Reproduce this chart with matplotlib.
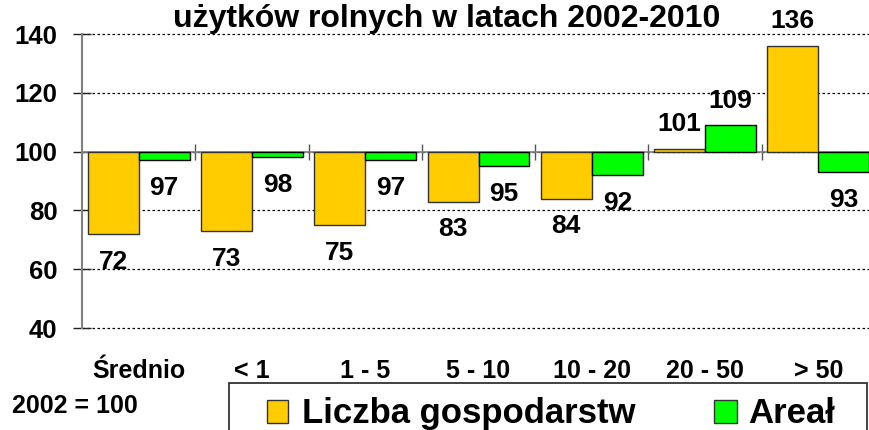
import matplotlib.pyplot as plt
import matplotlib.transforms as mtransforms
from matplotlib.patches import Rectangle

plt.rcParams['font.family'] = ['Liberation Sans', 'DejaVu Sans']
plt.rcParams['font.weight'] = 'bold'

# dane: 2002 = 100
kategorie = ['Średnio', '< 1', '1 - 5', '5 - 10', '10 - 20', '20 - 50', '> 50']
liczba_gospodarstw = [72, 73, 75, 83, 84, 101, 136]
areal = [97, 98, 97, 95, 92, 109, 93]
podstawa = 100

kolor_gosp = '#FFCC00'
kolor_areal = '#00FF00'

W, H = 869, 430
fig = plt.figure(figsize=(W / 100, H / 100), dpi=100)
ax = fig.add_axes([82 / W, 1 - 328 / H, 793 / W, 294 / H])

x = list(range(len(kategorie)))
srodki = [i + 0.5 for i in x]
szer = 0.45

ax.bar(srodki, [v - podstawa for v in liczba_gospodarstw], width=-szer, bottom=podstawa,
       align='edge', color=kolor_gosp, edgecolor='#333333', linewidth=1, zorder=3)
ax.bar(srodki, [v - podstawa for v in areal], width=szer, bottom=podstawa,
       align='edge', color=kolor_areal, edgecolor='black', linewidth=1, zorder=3)

# etykiety wartosci
for s, v in zip(srodki, liczba_gospodarstw):
    off = 17.5 if v > podstawa else -20
    ax.annotate(str(v), (s - szer / 2, v), xytext=(0, off), textcoords='offset points',
                ha='center', va='center', fontsize=19, fontweight='bold', annotation_clip=False)
for s, v in zip(srodki, areal):
    off = 17.5 if v > podstawa else -20
    ax.annotate(str(v), (s + szer / 2, v), xytext=(0, off), textcoords='offset points',
                ha='center', va='center', fontsize=19, fontweight='bold', annotation_clip=False)

ax.set_xlim(0, len(kategorie))
ax.set_ylim(40, 140)
ax.set_yticks([40, 60, 80, 100, 120, 140])
ax.tick_params(axis='y', direction='inout', length=13.5, width=1, color='#222222',
               labelsize=18.5, pad=11)
for lab in ax.get_yticklabels():
    lab.set_fontweight('bold')

ax.spines['bottom'].set_position(('data', podstawa))
ax.spines['bottom'].set_color('#808080')
ax.spines['bottom'].set_linewidth(1.2)
ax.spines['left'].set_color('#808080')
ax.spines['left'].set_linewidth(1.5)
ax.spines['top'].set_visible(False)
ax.spines['right'].set_visible(False)
ax.set_xticks(x[1:])
ax.set_xticklabels([])
ax.tick_params(axis='x', direction='inout', length=12, width=1, color='#555555')

ax.yaxis.grid(True, color='black', linestyle=(0, (2, 2)), linewidth=0.9)
for linia in ax.get_ygridlines():
    linia.set_clip_on(False)
ax.set_axisbelow(True)

# podpisy kategorii
tr = mtransforms.blended_transform_factory(ax.transData, fig.transFigure)
for s, k in zip(srodki, kategorie):
    ax.text(s, 1 - 378 / H, k, transform=tr, ha='center', va='baseline',
            fontsize=18, fontweight='bold')

fig.text(0.514, 1 - 27 / H, 'użytków rolnych w latach 2002-2010', ha='center',
         va='baseline', fontsize=23, fontweight='bold')
fig.text(12 / W, 1 - 413 / H, '2002 = 100', ha='left', va='baseline',
         fontsize=18, fontweight='bold')

# legenda
fig.patches.append(Rectangle((229 / W, -0.2), (867 - 229) / W, 0.2 + (430 - 383) / H,
                             transform=fig.transFigure, facecolor='white',
                             edgecolor='#333333', linewidth=1.3))
fig.patches.append(Rectangle((267 / W, 1 - 423 / H), 21 / W, 23 / H, transform=fig.transFigure,
                             facecolor=kolor_gosp, edgecolor='#333333', linewidth=1))
fig.patches.append(Rectangle((714 / W, 1 - 423 / H), 23 / W, 23 / H, transform=fig.transFigure,
                             facecolor=kolor_areal, edgecolor='#333333', linewidth=1))
fig.text(302 / W, 1 - 423 / H, 'Liczba gospodarstw', ha='left', va='baseline',
         fontsize=25, fontweight='bold')
fig.text(748 / W, 1 - 423 / H, 'Areał', ha='left', va='baseline',
         fontsize=25, fontweight='bold')

fig.savefig('out.png', dpi=100)
